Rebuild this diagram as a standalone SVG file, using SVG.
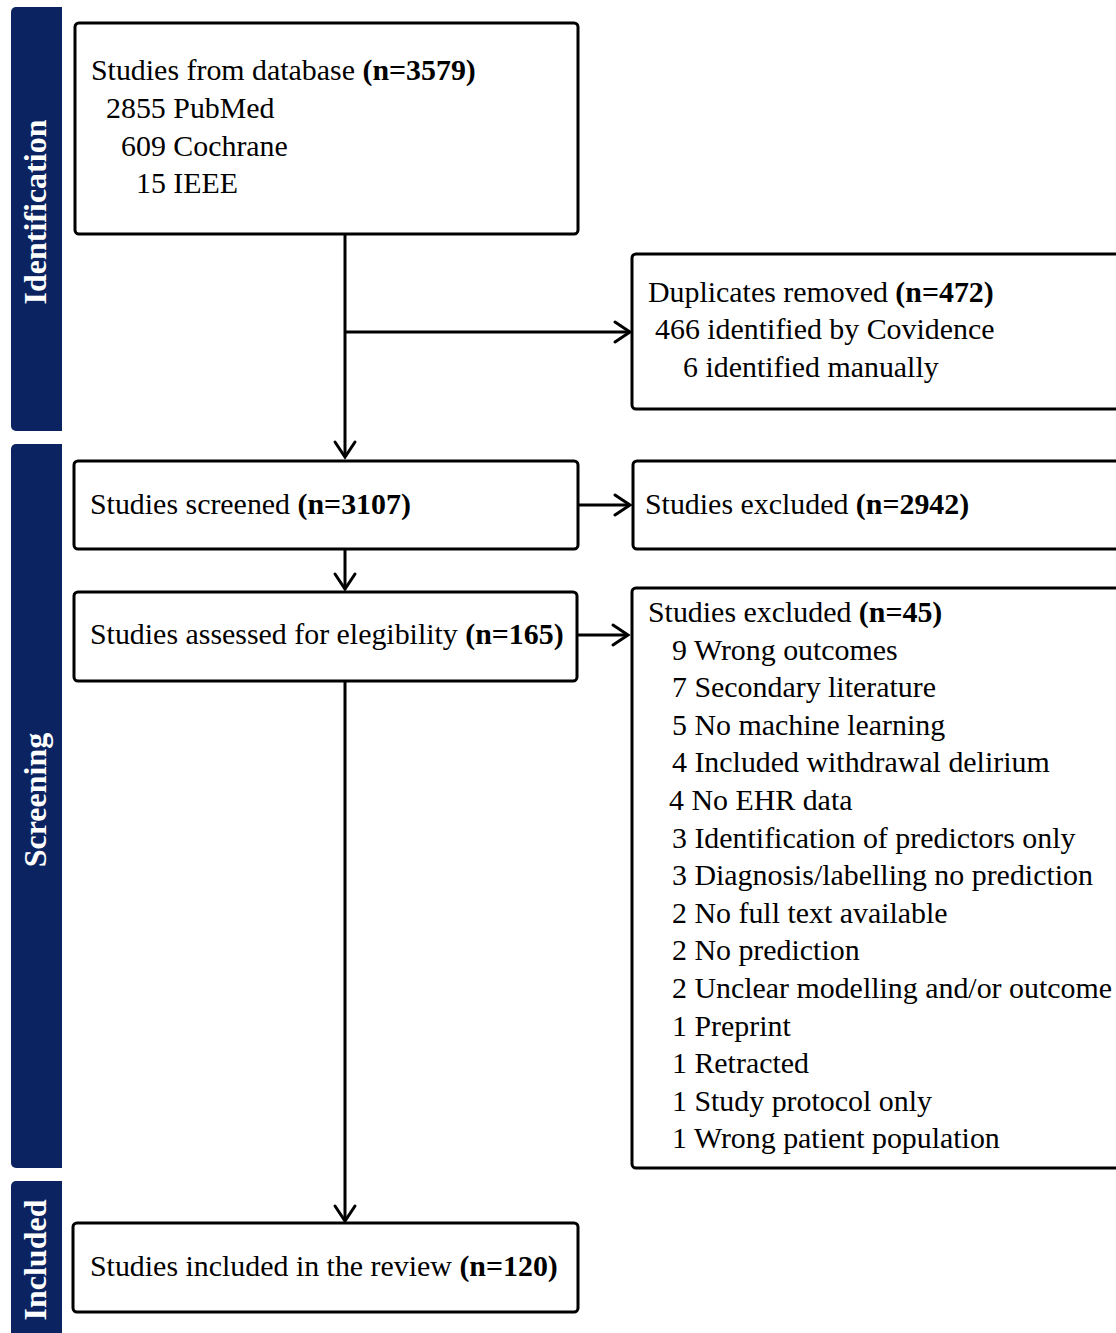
<svg xmlns="http://www.w3.org/2000/svg" width="1116" height="1333" viewBox="0 0 1116 1333">
<defs>
<style>
.box{fill:#fff;stroke:#000;stroke-width:3}
.t{font-family:"Liberation Serif","Times New Roman",serif;font-size:29.9px;fill:#000}
.b{font-weight:bold}
.bar{fill:#0b2461}
.lab{font-family:"Liberation Serif","Times New Roman",serif;font-size:32px;font-weight:bold;fill:#fff;text-anchor:middle}
.c{fill:none;stroke:#000;stroke-width:3}
</style>
<marker id="ah" markerUnits="userSpaceOnUse" markerWidth="40" markerHeight="40" viewBox="-20 -20 40 40" refX="0" refY="0" orient="auto">
<path d="M-15,-10 L0,0 L-15,10" fill="none" stroke="#000" stroke-width="3" stroke-linecap="round" stroke-linejoin="miter"/>
</marker>
</defs>
<rect width="1116" height="1333" fill="#fff"/>

<g id="phase-identification">
<path class="bar" d="M62,7 V431 H16 a5,5 0 0 1 -5,-5 V12 a5,5 0 0 1 5,-5 Z"/>
<text class="lab" transform="translate(46,212) rotate(-90)">Identification</text>
</g>
<g id="phase-screening">
<path class="bar" d="M62,444 V1168 H16 a5,5 0 0 1 -5,-5 V449 a5,5 0 0 1 5,-5 Z"/>
<text class="lab" transform="translate(46,800) rotate(-90)">Screening</text>
</g>
<g id="phase-included">
<path class="bar" d="M62,1181 V1340 H11 V1186 a5,5 0 0 1 5,-5 Z"/>
<text class="lab" transform="translate(46,1260) rotate(-90)">Included</text>
</g>

<g id="connectors">
<line class="c" x1="345" y1="234" x2="345" y2="457" marker-end="url(#ah)"/>
<line class="c" x1="345" y1="332" x2="630" y2="332" marker-end="url(#ah)"/>
<line class="c" x1="578" y1="505" x2="630" y2="505" marker-end="url(#ah)"/>
<line class="c" x1="345" y1="550" x2="345" y2="589" marker-end="url(#ah)"/>
<line class="c" x1="578" y1="635" x2="628" y2="635" marker-end="url(#ah)"/>
<line class="c" x1="345" y1="681" x2="345" y2="1221" marker-end="url(#ah)"/>
</g>

<g id="node-database">
<rect class="box" x="75" y="23" width="503" height="211" rx="4"/>
<text class="t" x="91" y="80">Studies from database <tspan class="b">(n=3579)</tspan></text>
<text class="t" x="106" y="118">2855 PubMed</text>
<text class="t" x="121" y="156">609 Cochrane</text>
<text class="t" x="136" y="193">15 IEEE</text>
</g>

<g id="node-duplicates">
<rect class="box" x="632" y="254" width="500" height="155" rx="4"/>
<text class="t" x="648" y="302">Duplicates removed <tspan class="b">(n=472)</tspan></text>
<text class="t" x="655" y="339">466 identified by Covidence</text>
<text class="t" x="683" y="377">6 identified manually</text>
</g>

<g id="node-screened">
<rect class="box" x="74" y="461" width="504" height="88" rx="4"/>
<text class="t" x="90" y="514">Studies screened <tspan class="b">(n=3107)</tspan></text>
</g>

<g id="node-excluded-screening">
<rect class="box" x="633" y="461" width="500" height="88" rx="4"/>
<text class="t" x="645" y="514">Studies excluded <tspan class="b">(n=2942)</tspan></text>
</g>

<g id="node-assessed">
<rect class="box" x="74" y="592" width="503" height="89" rx="4"/>
<text class="t" x="90" y="644">Studies assessed for elegibility <tspan class="b">(n=165)</tspan></text>
</g>

<g id="node-excluded-eligibility">
<rect class="box" x="632" y="588" width="500" height="580" rx="4"/>
<text class="t" x="648" y="622">Studies excluded <tspan class="b">(n=45)</tspan></text>
<text class="t" x="672" y="659.6">9 Wrong outcomes</text>
<text class="t" x="672" y="697.2">7 Secondary literature</text>
<text class="t" x="672" y="734.8">5 No machine learning</text>
<text class="t" x="672" y="772.4">4 Included withdrawal delirium</text>
<text class="t" x="669" y="810">4 No EHR data</text>
<text class="t" x="672" y="847.6">3 Identification of predictors only</text>
<text class="t" x="672" y="885.2">3 Diagnosis/labelling no prediction</text>
<text class="t" x="672" y="922.8">2 No full text available</text>
<text class="t" x="672" y="960.4">2 No prediction</text>
<text class="t" x="672" y="998">2 Unclear modelling and/or outcome</text>
<text class="t" x="672" y="1035.6">1 Preprint</text>
<text class="t" x="672" y="1073.2">1 Retracted</text>
<text class="t" x="672" y="1110.8">1 Study protocol only</text>
<text class="t" x="672" y="1148.4">1 Wrong patient population</text>
</g>

<g id="node-included">
<rect class="box" x="73" y="1223" width="505" height="89" rx="4"/>
<text class="t" x="90" y="1276">Studies included in the review <tspan class="b">(n=120)</tspan></text>
</g>
</svg>
